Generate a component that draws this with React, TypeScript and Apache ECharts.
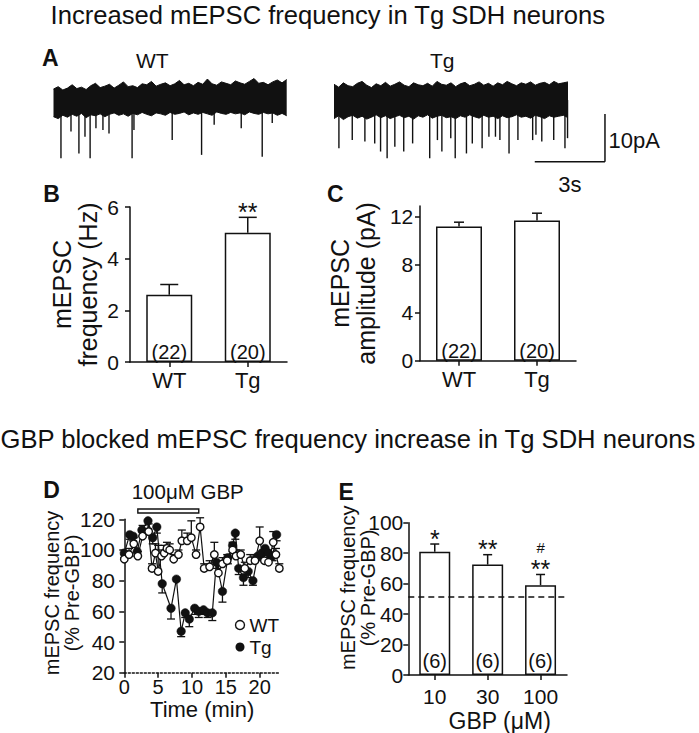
import React, { useEffect, useRef } from 'react';
import * as echarts from 'echarts';

const FONT = "'Liberation Sans', Arial, Helvetica, sans-serif";
const INK = '#111111';

// ---------- Panel A: example mEPSC traces (pA, relative to baseline) ----------
const TRACE_SAMPLE_S = 0.2;
const WT_NOISE_UP = [2.3, 2.8, 2.1, 2.5, 3.2, 2.4, 2.7, 2.2, 3.0, 3.5, 2.6, 2.9, 3.3, 2.5, 3.1, 3.8, 2.8, 3.0, 2.6, 3.4, 3.2, 3.9, 2.9, 3.3, 3.6, 3.0, 3.4, 4.1, 3.2, 3.5, 3.0, 3.7, 3.3, 4.4, 3.4, 3.1, 3.8, 3.5, 3.2, 4.0, 3.6, 3.3, 3.9, 4.5, 3.5, 3.7, 3.2, 3.8, 4.2, 3.6, 4.3];
const WT_NOISE_DOWN = [-3.5, -3.9, -3.2, -3.6, -3.0, -3.4, -2.8, -3.7, -3.1, -3.3, -2.9, -3.5, -3.0, -2.7, -3.2, -2.9, -3.4, -2.8, -3.1, -2.6, -3.0, -3.3, -2.7, -2.9, -3.2, -2.6, -3.0, -2.8, -2.5, -3.1, -2.7, -3.0, -2.6, -2.9, -3.2, -2.5, -2.8, -3.0, -2.6, -2.9, -2.7, -3.1, -2.5, -2.8, -3.0, -2.6, -2.9, -2.7, -3.2, -2.8, -3.3];
const TG_NOISE_UP = [3.3, 2.7, 3.6, 3.0, 2.8, 3.5, 3.9, 3.1, 2.6, 3.4, 3.0, 3.7, 2.9, 3.3, 3.8, 3.1, 2.8, 3.6, 3.2, 3.0, 3.5, 2.9, 3.9, 3.3, 3.1, 3.6, 2.8, 3.4, 3.7, 3.0, 3.3, 3.8, 3.1, 3.5, 2.9, 3.6, 3.2, 3.9, 3.4, 3.0, 3.6, 3.3, 3.8, 3.1, 3.5, 3.7, 3.2, 3.9, 3.4, 3.6, 3.8];
const TG_NOISE_DOWN = [-3.9, -3.3, -4.1, -3.5, -3.2, -3.8, -3.4, -4.0, -3.6, -3.1, -3.7, -3.3, -3.9, -3.5, -3.2, -3.7, -3.4, -4.0, -3.3, -3.6, -3.1, -3.8, -3.4, -3.2, -3.7, -3.5, -3.9, -3.3, -3.6, -3.1, -3.5, -3.8, -3.2, -3.6, -3.4, -3.9, -3.3, -3.7, -3.5, -3.1, -3.6, -3.4, -3.8, -3.2, -3.5, -3.9, -3.3, -3.6, -3.4, -3.2, -3.7];
const WT_EVENT_T = [0.32, 0.75, 1.09, 1.35, 1.57, 1.82, 2.12, 2.38, 3.37, 3.45, 5.09, 6.35, 6.89, 8.05, 8.95, 9.38];
const WT_EVENT_PA = [-12.2, -6.6, -11.2, -7.7, -12.2, -5.9, -6.3, -7.0, -12.2, -6.3, -8.4, -11.5, -5.2, -5.9, -11.9, -4.8];
const TG_EVENT_T = [0.21, 0.78, 1.32, 1.74, 1.99, 2.27, 2.6, 2.98, 3.36, 4.09, 4.42, 4.61, 4.99, 5.18, 5.66, 5.91, 6.33, 6.62, 6.9, 7.09, 7.48, 7.86, 8.49, 8.63, 8.88, 9.39, 9.87, 9.98];
const TG_EVENT_PA = [-10.1, -8.4, -8.7, -9.1, -10.8, -12.2, -9.8, -10.8, -9.1, -12.2, -8.4, -10.8, -8.0, -12.2, -11.2, -9.1, -10.1, -7.7, -7.7, -8.4, -11.2, -8.4, -8.4, -7.3, -8.7, -8.4, -10.1, -8.0];
const SCALE_BAR_S = 3;
const SCALE_BAR_PA = 10;
const SCALE_BAR_CORNER = [11.58, -12.93]; // corner of the scale bar in trace units (s, pA)

// ---------- Panel B / C ----------
const GROUPS = ['WT', 'Tg'];
const FREQ_MEAN = [2.6, 5.0];
const FREQ_SEM = [0.4, 0.6];
const FREQ_N = [22, 20];
const FREQ_SIG = ['', '**'];
const AMP_MEAN = [11.2, 11.7];
const AMP_SEM = [0.35, 0.6];
const AMP_N = [22, 20];

// ---------- Panel D: time course (% of pre-GBP) ----------
const WT_TIME = [0.0, 0.7, 1.4, 2.0, 2.7, 3.6, 4.1, 4.6, 5.0, 5.5, 5.9, 6.3, 6.7, 7.3, 8.0, 8.5, 9.3, 9.9, 10.6, 11.2, 11.8, 12.6, 13.3, 13.9, 14.5, 15.2, 16.0, 16.5, 17.2, 17.8, 18.6, 19.3, 20.0, 20.7, 21.3, 22.0, 22.4, 22.9];
const WT_PCT = [94, 97, 104, 96, 109, 112, 88, 98, 86, 96, 98, 101, 100, 94, 97, 106, 106, 108, 97, 115, 88, 89, 97, 85, 91, 93, 100, 96, 97, 88, 93, 93, 106, 93, 92, 105, 97, 88];
const WT_PCT_SEM = [3, 4, 4, 3, 7, 5, 3, 6, 17, 4, 5, 4, 4, 3, 3, 7, 5, 11, 3, 6, 3, 4, 8, 5, 4, 4, 5, 4, 3, 4, 4, 3, 9, 4, 3, 7, 4, 3];
const TG_TIME = [0.0, 0.8, 1.3, 1.9, 2.6, 3.5, 4.2, 4.8, 5.6, 6.9, 7.7, 8.4, 9.0, 9.6, 10.4, 11.0, 11.7, 12.3, 13.0, 13.6, 14.5, 15.3, 16.0, 16.4, 16.9, 17.6, 18.3, 19.0, 19.7, 20.3, 20.8, 21.3, 21.9, 22.5];
const TG_PCT = [98, 110, 109, 99, 113, 119, 108, 115, 78, 62, 81, 47, 59, 55, 62, 60, 61, 59, 59, 92, 73, 95, 103, 111, 88, 82, 86, 80, 96, 98, 101, 98, 96, 110];
const TG_PCT_SEM = [3, 3, 3, 3, 4, 5, 4, 4, 6, 7, 0, 3.5, 3, 5, 4, 4, 3, 3, 5, 4, 7, 4, 4, 4, 4, 5, 4, 3, 3, 4, 4, 4, 3, 4];
const GBP_APPLICATION = [2, 11]; // minutes

// ---------- Panel E: dose response ----------
const GBP_DOSES = ['10', '30', '100'];
const GBP_PCT = [81, 72.5, 59];
const GBP_PCT_SEM = [5, 6.5, 7];
const GBP_N = [6, 6, 6];
const GBP_SIG = ['*', '**', '**'];
const GBP_SIG2 = ['', '', '#'];
const TG_100UM_REF = 51.3;

const line = (x1: number, y1: number, x2: number, y2: number, w = 1.5) => ({
  type: 'line',
  shape: { x1, y1, x2, y2 },
  style: { stroke: INK, lineWidth: w },
});

const ctext = (text: string, x: number, y: number, size: number, align = 'center', bold = false, lineHeight?: number) => ({
  type: 'text',
  x,
  y,
  style: {
    text, fill: INK, fontSize: size, fontFamily: FONT, fontWeight: bold ? 'bold' : 'normal', align, verticalAlign: 'middle',
    ...(lineHeight ? { lineHeight } : {}),
  },
});

const makeBarErr = (sig: string[] | null, sig2: string[] | null, capW: number) => (params: any, api: any) => {
  const i = api.value(0);
  const m = api.value(1);
  const e = api.value(2);
  const base = api.coord([i, m]);
  const top = api.coord([i, m + e]);
  const children: any[] = [
    line(base[0], base[1], top[0], top[1]),
    line(top[0] - capW / 2, top[1], top[0] + capW / 2, top[1]),
  ];
  const idx = params.dataIndex;
  if (sig && sig[idx]) children.push(ctext(sig[idx], top[0], top[1] - 5.3, 25, 'center', false, 14));
  if (sig2 && sig2[idx]) children.push(ctext(sig2[idx], top[0], top[1] - 27, 15, 'center', false, 12));
  return { type: 'group', children };
};

const makeTimeErr = (dir: number) => (params: any, api: any) => {
  const t = api.value(0);
  const v = api.value(1);
  const e = api.value(2);
  if (!e) return null;
  const p0 = api.coord([t, v]);
  const p1 = api.coord([t, v + dir * e]);
  return {
    type: 'group',
    children: [line(p0[0], p0[1], p1[0], p1[1], 1.3), line(p1[0] - 4, p1[1], p1[0] + 4, p1[1], 1.3)],
  };
};

const eventRender = (params: any, api: any) => {
  const t = api.value(0);
  const a = api.value(1);
  const p0 = api.coord([t, 0]);
  const p1 = api.coord([t, a]);
  return line(p0[0], p0[1], p1[0], p1[1], 1.4);
};

const axLine = { show: true, lineStyle: { color: INK, width: 1.5 } };
const axTick = { show: true, length: 5, lineStyle: { color: INK, width: 1.5 } };
const lbl = (margin: number, size = 21) => ({ color: INK, fontSize: size, fontFamily: FONT, margin });
const noSplit = { show: false };

function buildOption(): any {
  const traceX = (i: number) => i * TRACE_SAMPLE_S;
  const traceSeries = (up: number[], down: number[], ev: number[], evA: number[], k: number) => [
    {
      type: 'line', xAxisIndex: k, yAxisIndex: k, silent: true, symbol: 'none',
      data: up.map((v, i) => [traceX(i), v]),
      lineStyle: { color: INK, width: 1 }, areaStyle: { color: INK, opacity: 1 },
    },
    {
      type: 'line', xAxisIndex: k, yAxisIndex: k, silent: true, symbol: 'none',
      data: down.map((v, i) => [traceX(i), v]),
      lineStyle: { color: INK, width: 1 }, areaStyle: { color: INK, opacity: 1 },
    },
    {
      type: 'custom', xAxisIndex: k, yAxisIndex: k, silent: true,
      data: ev.map((t, i) => [t, evA[i]]),
      encode: { x: 0, y: 1 },
      renderItem: eventRender,
    },
  ];

  const barLabel = (ns: number[], distance: number) => ({
    show: true, position: 'insideBottom', distance, color: INK, fontSize: 20, fontFamily: FONT,
    formatter: (p: any) => `(${ns[p.dataIndex]})`,
  });
  const barStyle = { color: '#ffffff', borderColor: INK, borderWidth: 1.5 };

  return {
    animation: false,
    backgroundColor: '#ffffff',
    textStyle: { fontFamily: FONT, color: INK },
    grid: [
      { left: 53.5, top: 71.4, width: 233.2, height: 95.4 },
      { left: 334, top: 71.4, width: 234, height: 95.4 },
      { left: 130, top: 207, width: 157, height: 155 },
      { left: 420, top: 206, width: 156, height: 154.7 },
      { left: 124.3, top: 519.3, width: 155.7, height: 153.4 },
      { left: 408.3, top: 522.7, width: 158.7, height: 154 },
    ],
    xAxis: [
      { gridIndex: 0, type: 'value', min: 0, max: 10, show: false },
      { gridIndex: 1, type: 'value', min: 0, max: 10, show: false },
      {
        gridIndex: 2, type: 'category', data: GROUPS, axisLine: axLine,
        axisTick: { ...axTick, alignWithLabel: true }, axisLabel: lbl(7, 22),
      },
      {
        gridIndex: 3, type: 'category', data: GROUPS, axisLine: axLine,
        axisTick: { ...axTick, alignWithLabel: true }, axisLabel: lbl(8, 22),
      },
      {
        gridIndex: 4, type: 'value', min: 0, max: 23,
        axisLine: { show: true, lineStyle: { color: INK, width: 1.5, type: [2, 2] } },
        axisTick: { ...axTick, customValues: [0, 5, 10, 15, 20] },
        axisLabel: { ...lbl(4, 20), customValues: [0, 5, 10, 15, 20] },
        splitLine: noSplit,
        name: 'Time (min)', nameLocation: 'middle', nameGap: 26, nameMoveOverlap: false,
        nameTextStyle: { fontSize: 22, lineHeight: 22, fontFamily: FONT, color: INK },
      },
      {
        gridIndex: 5, type: 'category', data: GBP_DOSES, axisLine: axLine,
        axisTick: { ...axTick, alignWithLabel: true }, axisLabel: lbl(10.6, 21),
        name: 'GBP (μM)', nameLocation: 'middle', nameGap: 34, nameMoveOverlap: false,
        nameTextStyle: { fontSize: 23, fontFamily: FONT, color: INK, padding: [0, 0, 0, 24] },
      },
    ],
    yAxis: [
      { gridIndex: 0, type: 'value', min: -14, max: 6, show: false },
      { gridIndex: 1, type: 'value', min: -14, max: 6, show: false },
      {
        gridIndex: 2, type: 'value', min: 0, max: 6, interval: 2, axisLine: axLine, axisTick: axTick,
        axisLabel: lbl(11), splitLine: noSplit,
        name: 'mEPSC\nfrequency (Hz)', nameLocation: 'middle', nameGap: 29, nameMoveOverlap: false,
        nameTextStyle: { fontSize: 25, lineHeight: 26, fontFamily: FONT, color: INK },
      },
      {
        gridIndex: 3, type: 'value', min: 0, max: 12.9, axisLine: axLine,
        axisTick: { ...axTick, customValues: [0, 4, 8, 12] },
        axisLabel: { ...lbl(6.7), customValues: [0, 4, 8, 12] }, splitLine: noSplit,
        name: 'mEPSC\namplitude (pA)', nameLocation: 'middle', nameGap: 41, nameMoveOverlap: false,
        nameTextStyle: { fontSize: 25, lineHeight: 26, fontFamily: FONT, color: INK },
      },
      {
        gridIndex: 4, type: 'value', min: 20, max: 120, interval: 20, axisLine: axLine, axisTick: axTick,
        axisLabel: lbl(9.3), splitLine: noSplit,
        name: 'mEPSC frequency\n(% Pre-GBP)', nameLocation: 'middle', nameGap: 42.3, nameMoveOverlap: false,
        nameTextStyle: { fontSize: 20, lineHeight: 20, fontFamily: FONT, color: INK, padding: [0, 0, 0, 6] },
      },
      {
        gridIndex: 5, type: 'value', min: 0, max: 100, interval: 20, axisLine: axLine, axisTick: axTick,
        axisLabel: lbl(5), splitLine: noSplit,
        name: 'mEPSC frequency\n(% Pre-GBP)', nameLocation: 'middle', nameGap: 30.3, nameMoveOverlap: false,
        nameTextStyle: { fontSize: 20, lineHeight: 20, fontFamily: FONT, color: INK, padding: [0, 0, 0, 22] },
      },
    ],
    legend: {
      left: 234.8, top: 615, orient: 'vertical', padding: 0, itemGap: 2, itemWidth: 9, itemHeight: 9,
      selectedMode: false,
      textStyle: { fontSize: 19, lineHeight: 20, fontFamily: FONT, color: INK },
      data: [
        { name: 'WT', icon: 'circle', itemStyle: { color: '#ffffff', borderColor: INK, borderWidth: 1.4 } },
        { name: 'Tg', icon: 'circle', itemStyle: { color: INK, borderColor: INK, borderWidth: 0 } },
      ],
    },
    series: [
      ...traceSeries(WT_NOISE_UP, WT_NOISE_DOWN, WT_EVENT_T, WT_EVENT_PA, 0),
      ...traceSeries(TG_NOISE_UP, TG_NOISE_DOWN, TG_EVENT_T, TG_EVENT_PA, 1),
      {
        type: 'custom', xAxisIndex: 1, yAxisIndex: 1, silent: true, clip: false,
        data: [[SCALE_BAR_CORNER[0], SCALE_BAR_CORNER[1]]],
        encode: { x: 0, y: 1 },
        renderItem: (params: any, api: any) => {
          const t = api.value(0);
          const a = api.value(1);
          const c = api.coord([t, a]);
          const left = api.coord([t - SCALE_BAR_S, a]);
          const up = api.coord([t, a + SCALE_BAR_PA]);
          return {
            type: 'group',
            children: [
              line(left[0], left[1], c[0], c[1]),
              line(c[0], c[1], up[0], up[1]),
              ctext(`${SCALE_BAR_PA}pA`, c[0] + 3.5, (c[1] + up[1]) / 2 + 2.8, 22, 'left'),
              ctext(`${SCALE_BAR_S}s`, (left[0] + c[0]) / 2, c[1] + 22.7, 22),
            ],
          };
        },
      },
      // B
      {
        type: 'bar', xAxisIndex: 2, yAxisIndex: 2, silent: true, data: FREQ_MEAN, barWidth: 46,
        itemStyle: barStyle, label: barLabel(FREQ_N, 0),
      },
      {
        type: 'custom', xAxisIndex: 2, yAxisIndex: 2, silent: true, z: 5,
        data: FREQ_MEAN.map((m, i) => [i, m, FREQ_SEM[i]]), encode: { x: 0, y: 1 },
        renderItem: makeBarErr(FREQ_SIG, null, 18),
      },
      // C
      {
        type: 'bar', xAxisIndex: 3, yAxisIndex: 3, silent: true, data: AMP_MEAN, barWidth: 46,
        itemStyle: barStyle, label: barLabel(AMP_N, 0),
      },
      {
        type: 'custom', xAxisIndex: 3, yAxisIndex: 3, silent: true, z: 5,
        data: AMP_MEAN.map((m, i) => [i, m, AMP_SEM[i]]), encode: { x: 0, y: 1 },
        renderItem: makeBarErr(null, null, 10),
      },
      // D
      {
        type: 'custom', xAxisIndex: 4, yAxisIndex: 4, silent: true, z: 1,
        data: TG_TIME.map((t, i) => [t, TG_PCT[i], TG_PCT_SEM[i]]), encode: { x: 0, y: 1 },
        renderItem: makeTimeErr(-1),
      },
      {
        type: 'custom', xAxisIndex: 4, yAxisIndex: 4, silent: true, z: 1,
        data: WT_TIME.map((t, i) => [t, WT_PCT[i], WT_PCT_SEM[i]]), encode: { x: 0, y: 1 },
        renderItem: makeTimeErr(1),
      },
      {
        name: 'Tg', type: 'line', xAxisIndex: 4, yAxisIndex: 4, silent: true, z: 3,
        data: TG_TIME.map((t, i) => [t, TG_PCT[i]]),
        symbol: 'circle', symbolSize: 8.5, showAllSymbol: true,
        lineStyle: { color: INK, width: 1.2 }, itemStyle: { color: INK, borderColor: INK, borderWidth: 0.5 },
      },
      {
        name: 'WT', type: 'line', xAxisIndex: 4, yAxisIndex: 4, silent: true, z: 4,
        data: WT_TIME.map((t, i) => [t, WT_PCT[i]]),
        symbol: 'circle', symbolSize: 7.5, showAllSymbol: true,
        lineStyle: { color: INK, width: 1.2 }, itemStyle: { color: '#ffffff', borderColor: INK, borderWidth: 1.4 },
      },
      {
        type: 'custom', xAxisIndex: 4, yAxisIndex: 4, silent: true, clip: false, z: 5,
        data: [GBP_APPLICATION], encode: { x: [0, 1] },
        renderItem: (params: any, api: any) => {
          const a = api.coord([api.value(0), 120]);
          const b = api.coord([api.value(1), 120]);
          return {
            type: 'rect',
            shape: { x: a[0], y: a[1] - 10.3, width: b[0] - a[0], height: 4 },
            style: { fill: '#ffffff', stroke: INK, lineWidth: 1.4 },
          };
        },
      },
      // E
      {
        type: 'bar', xAxisIndex: 5, yAxisIndex: 5, silent: true, data: GBP_PCT, barWidth: 31,
        itemStyle: barStyle, label: barLabel(GBP_N, 4),
        markLine: {
          silent: true, symbol: 'none', label: { show: false },
          lineStyle: { color: INK, width: 1.5, type: [6, 4] },
          data: [{ yAxis: TG_100UM_REF }],
        },
      },
      {
        type: 'custom', xAxisIndex: 5, yAxisIndex: 5, silent: true, z: 5,
        data: GBP_PCT.map((m, i) => [i, m, GBP_PCT_SEM[i]]), encode: { x: 0, y: 1 },
        renderItem: makeBarErr(GBP_SIG, GBP_SIG2, 9),
      },
    ],
    graphic: {
      elements: [
        { ...ctext('Increased mEPSC frequency in Tg SDH neurons', 50.6, 14.5, 25.6, 'left'), silent: true },
        { ...ctext('GBP blocked mEPSC frequency increase in Tg SDH neurons', 0.5, 439, 25.6, 'left'), silent: true },
        { ...ctext('A', 42, 58, 23, 'left', true), silent: true },
        { ...ctext('WT', 136, 60.7, 21, 'left'), silent: true },
        { ...ctext('Tg', 430, 60.7, 21, 'left'), silent: true },
        { ...ctext('B', 43.3, 193.6, 23, 'left', true), silent: true },
        { ...ctext('C', 327, 193.6, 23, 'left', true), silent: true },
        { ...ctext('D', 43.3, 490.3, 23, 'left', true), silent: true },
        { ...ctext('E', 338.5, 492, 23, 'left', true), silent: true },
        { ...ctext('100μM GBP', 131.7, 491, 20.5, 'left'), silent: true },
      ],
    },
  };
}

export default function App() {
  const ref = useRef<HTMLDivElement>(null);
  useEffect(() => {
    if (!ref.current) return;
    const chart = echarts.init(ref.current, null, { renderer: 'svg' });
    chart.setOption(buildOption());
    return () => chart.dispose();
  }, []);
  return (
    <div
      ref={ref}
      style={{ position: 'absolute', left: 0, top: 0, width: 699, height: 733, background: '#ffffff' }}
    />
  );
}
